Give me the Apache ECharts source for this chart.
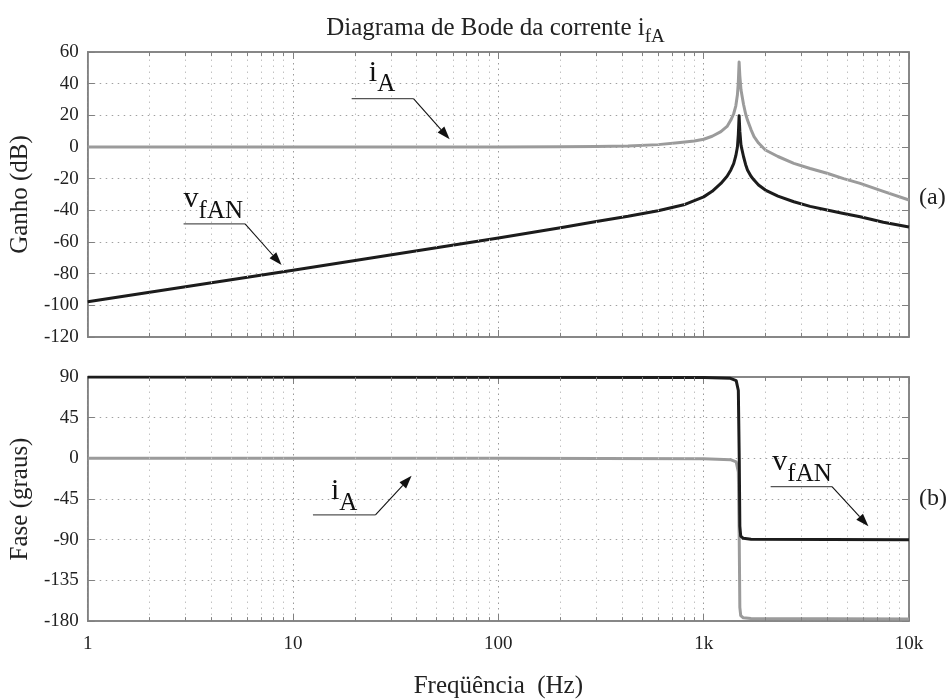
<!DOCTYPE html>
<html><head><meta charset="utf-8">
<script src="https://cdn.jsdelivr.net/npm/echarts@6/dist/echarts.min.js"></script>
<style>html,body{margin:0;padding:0;background:#fff}#c{width:951px;height:700px}</style>
</head><body><div id="c"></div>
<script>
// ---- data ----
const freqTickValues = [1, 10, 100, 1000, 10000];
const freqTickLabels = ['1', '10', '100', '1k', '10k'];
const minorFreqs = [2,3,4,5,6,7,8,9, 20,30,40,50,60,70,80,90, 200,300,400,500,600,700,800,900, 2000,3000,4000,5000,6000,7000,8000,9000];

const gainFreqIA = [1, 10, 100, 200, 300, 428, 600, 748, 900, 1000, 1100, 1213, 1300, 1356, 1400, 1434, 1460, 1475, 1488, 1500, 1520, 1563, 1600, 1634, 1700, 1759, 1850, 1997, 2300, 2748, 3300, 3989, 4800, 5783, 7500, 10000];
const gainIA     = [0, 0, 0, 0.1, 0.3, 0.6, 1.5, 2.7, 3.8, 4.9, 6.8, 9.7, 13, 17, 21, 26, 33, 41, 53.7, 45, 36, 27, 21, 17, 11, 6.5, 2.5, -1.9, -6, -10.3, -13.6, -16.6, -20, -23, -28, -33.5];

const gainFreqVfAN = [1, 10, 100, 204, 300, 428, 600, 800, 1000, 1100, 1213, 1300, 1356, 1400, 1434, 1460, 1475, 1488, 1500, 1520, 1563, 1600, 1634, 1700, 1759, 1850, 1997, 2300, 2748, 3300, 3989, 4800, 5783, 7500, 10000];
const gainVfAN     = [-97.7, -77.8, -57.5, -50.8, -47, -43.8, -40.3, -36.5, -31.5, -28, -23, -18.5, -14.5, -10.5, -5.5, 0, 8, 19.8, 10, 1, -6, -11, -14.5, -18.5, -20.9, -24, -27.2, -31, -34.6, -37.5, -39.8, -42, -44, -47.5, -50.5];

const phaseFreqIA = [1, 100, 1000, 1350, 1440, 1475, 1490, 1500, 1515, 1560, 1700, 10000];
const phaseIA     = [0, 0, -0.5, -1.5, -4, -15, -90, -165, -174, -176.5, -177.3, -177.8];

const phaseFreqVfAN = [1, 1000, 1350, 1440, 1475, 1490, 1500, 1515, 1560, 1700, 10000];
const phaseVfAN     = [90, 89.5, 88.5, 86, 75, 0, -75, -86, -88.5, -89.5, -90];

const gainAxis = {min: -120, max: 60, interval: 20};
const phaseAxis = {min: -180, max: 90, interval: 45};

// annotation anchors in data units: [freq, value]
const annotations = [
  {panel: 0, main: 'i', sub: 'A',   text: [23.4, 41.1],  from: [19.3, 30.5],  to: [38.6, 30.5],  tip: [57.9, 4.9]},
  {panel: 0, main: 'v', sub: 'fAN', text: [2.93, -38.5], from: [2.93, -48.6], to: [5.84, -48.6], tip: [8.79, -74.5]},
  {panel: 1, main: 'i', sub: 'A',   text: [15.3, -46.1], from: [12.5, -62.6], to: [25.2, -62.6], tip: [37.8, -19.4]},
  {panel: 1, main: 'v', sub: 'fAN', text: [2159, -14],   from: [2119, -31.3], to: [4217, -31.3], tip: [6343, -75.2]}
];

// ---- chart ----
const FONT = '"Liberation Serif", "DejaVu Serif", serif';
const GRAY = '#9b9b9b', BLACK = '#1c1c1c', FRAME = '#808080';
const zip = (xs, ys) => xs.map((x, i) => [x, ys[i]]);
const measureCtx = document.createElement('canvas').getContext('2d');
function textWidth(txt, size) { measureCtx.font = size + 'px ' + FONT; return measureCtx.measureText(txt).width; }

const chart = echarts.init(document.getElementById('c'), null, {renderer: 'canvas'});

const L = 83.5, R = 951 - 909;
const grids = [
  {left: L, right: R, top: 52, height: 285, show: true, borderColor: FRAME, borderWidth: 1.5, backgroundColor: 'transparent'},
  {left: L, right: R, top: 377, height: 250, show: true, borderColor: FRAME, borderWidth: 1.5, backgroundColor: 'transparent'}
];

function xAxisFor(gridIndex, position, labels, name) {
  return {
    type: 'log', logBase: 10, min: 1, max: 10000, gridIndex, position,
    axisLine: {show: true, onZero: false, lineStyle: {color: FRAME, width: 1.5}},
    axisTick: {show: true, inside: true, length: 7, lineStyle: {color: FRAME, width: 1}},
    axisLabel: {show: labels, margin: 14, color: '#222', fontFamily: FONT, fontSize: 19,
      formatter: v => { const i = freqTickValues.indexOf(Math.round(v)); return i >= 0 ? freqTickLabels[i] : ''; }},
    splitLine: {show: position === 'bottom', lineStyle: {type: [1.5, 4], color: '#9a9a9a', width: 1}},
    name: name || '', nameLocation: 'middle', nameGap: 53,
    nameTextStyle: {fontFamily: FONT, fontSize: 25, color: '#222'}
  };
}
function yAxisFor(gridIndex, position, cfg, labels, name) {
  return {
    type: 'value', gridIndex, position, min: cfg.min, max: cfg.max, interval: cfg.interval,
    axisLine: {show: true, onZero: false, lineStyle: {color: FRAME, width: 1.5}},
    axisTick: {show: true, inside: true, length: 7, lineStyle: {color: FRAME, width: 1}},
    axisLabel: {show: labels, margin: 9, color: '#222', fontFamily: FONT, fontSize: 19},
    splitLine: {show: position === 'left', lineStyle: {type: [1.5, 4.5], color: '#a0a0a0', width: 1}},
    name: name || '', nameLocation: 'middle', nameGap: 41,
    nameTextStyle: {fontFamily: FONT, fontSize: 25, color: '#222'}
  };
}

function minorSeries(xIdx, yIdx, cfg, tickLen) {
  const lines = minorFreqs.map(v => ({xAxis: v}));
  const ticks = [];
  minorFreqs.forEach(v => {
    ticks.push([{coord: [v, cfg.min], lineStyle: {type: 'solid', color: FRAME, width: 1}}, {coord: [v, cfg.min + tickLen]}]);
    ticks.push([{coord: [v, cfg.max], lineStyle: {type: 'solid', color: FRAME, width: 1}}, {coord: [v, cfg.max - tickLen]}]);
  });
  return {
    type: 'line', xAxisIndex: xIdx, yAxisIndex: yIdx, data: [], silent: true, z: 1,
    markLine: {silent: true, symbol: ['none', 'none'], label: {show: false}, animation: false,
      lineStyle: {type: [1.5, 4.5], color: '#c2c2c2', width: 1},
      data: lines.concat(ticks)}
  };
}

const option = {
  animation: false,
  grid: grids,
  xAxis: [
    xAxisFor(0, 'bottom', false),
    xAxisFor(1, 'bottom', true, 'Freqüência  (Hz)'),
    xAxisFor(0, 'top', false),
    xAxisFor(1, 'top', false)
  ],
  yAxis: [
    yAxisFor(0, 'left', gainAxis, true, 'Ganho (dB)'),
    yAxisFor(1, 'left', phaseAxis, true, 'Fase (graus)'),
    yAxisFor(0, 'right', gainAxis, false),
    yAxisFor(1, 'right', phaseAxis, false)
  ],
  series: [
    {type: 'line', name: 'iA gain', xAxisIndex: 0, yAxisIndex: 0, data: zip(gainFreqIA, gainIA), showSymbol: false, z: 3,
      lineStyle: {color: GRAY, width: 3, join: 'round'}, itemStyle: {color: GRAY}},
    {type: 'line', name: 'vfAN gain', xAxisIndex: 0, yAxisIndex: 0, data: zip(gainFreqVfAN, gainVfAN), showSymbol: false, z: 4,
      lineStyle: {color: BLACK, width: 3, join: 'round'}, itemStyle: {color: BLACK}},
    {type: 'line', name: 'iA phase', xAxisIndex: 1, yAxisIndex: 1, data: zip(phaseFreqIA, phaseIA), showSymbol: false, z: 3,
      lineStyle: {color: GRAY, width: 3, join: 'round'}, itemStyle: {color: GRAY}},
    {type: 'line', name: 'vfAN phase', xAxisIndex: 1, yAxisIndex: 1, data: zip(phaseFreqVfAN, phaseVfAN), showSymbol: false, z: 4,
      lineStyle: {color: BLACK, width: 3, join: 'round'}, itemStyle: {color: BLACK}},
    minorSeries(0, 0, gainAxis, 2.6),
    minorSeries(1, 1, phaseAxis, 4.3)
  ]
};
chart.setOption(option);

// ---- annotations, titles ----
function pushSubText(g, x, baseline, main, sub, mainSize, subSize, subDrop, color) {
  const wm = textWidth(main, mainSize);
  g.push({type: 'text', silent: true, z: 20, x: x, y: baseline - 0.3 * mainSize,
    style: {text: main, fontFamily: FONT, fontSize: mainSize, fill: color, align: 'left', verticalAlign: 'middle'}});
  g.push({type: 'text', silent: true, z: 20, x: x + wm, y: baseline + subDrop - 0.3 * subSize,
    style: {text: sub, fontFamily: FONT, fontSize: subSize, fill: color, align: 'left', verticalAlign: 'middle'}});
}

function buildGraphics() {
  const g = [];
  annotations.forEach(a => {
    const sIdx = a.panel === 0 ? 0 : 2;
    const p = c => chart.convertToPixel({seriesIndex: sIdx}, c);
    const t = p(a.text), l0 = p(a.from), l1 = p(a.to), tip = p(a.tip);
    const dx = tip[0] - l1[0], dy = tip[1] - l1[1], len = Math.hypot(dx, dy);
    const ux = dx / len, uy = dy / len, hl = 13, hw = 4.5;
    const bx = tip[0] - ux * hl, by = tip[1] - uy * hl;
    g.push({type: 'polyline', silent: true, z: 20, shape: {points: [[l0[0], l0[1]], [l1[0], l1[1]]]},
      style: {stroke: '#555', lineWidth: 1.3, fill: null}});
    g.push({type: 'polyline', silent: true, z: 20, shape: {points: [[l1[0], l1[1]], [bx, by]]},
      style: {stroke: '#111', lineWidth: 1.1, fill: null}});
    g.push({type: 'polygon', silent: true, z: 20,
      shape: {points: [[tip[0], tip[1]], [bx - uy * hw, by + ux * hw], [bx + uy * hw, by - ux * hw]]},
      style: {fill: '#111'}});
    pushSubText(g, t[0], t[1], a.main, a.sub, 30, 25, 10.5, '#111');
  });
  // chart title
  const tMain = 'Diagrama de Bode da corrente i', tSub = 'fA';
  const tw = textWidth(tMain, 25) + textWidth(tSub, 19);
  pushSubText(g, 495.5 - tw / 2, 36, tMain, tSub, 25, 19, 7, '#222');
  // panel tags
  const ta = chart.convertToPixel({seriesIndex: 0}, [10000, -32]);
  const tb = chart.convertToPixel({seriesIndex: 2}, [10000, -45]);
  [['(a)', ta], ['(b)', tb]].forEach(([txt, pt]) => {
    g.push({type: 'text', silent: true, z: 20, x: pt[0] + 10, y: pt[1],
      style: {text: txt, fontFamily: FONT, fontSize: 24, fill: '#222', align: 'left', verticalAlign: 'middle'}});
  });
  chart.setOption({graphic: g});
}
buildGraphics();
</script>
</body></html>
